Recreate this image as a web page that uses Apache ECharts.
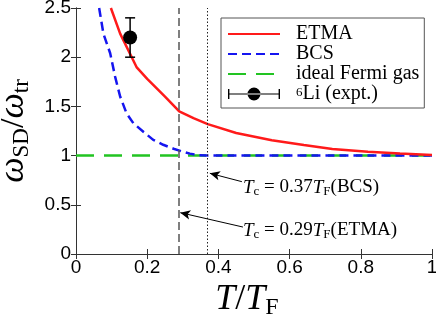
<!DOCTYPE html>
<html><head><meta charset="utf-8">
<script src="https://cdn.jsdelivr.net/npm/echarts@6/dist/echarts.min.js"></script>
<style>html,body{margin:0;padding:0;background:#fff}#c{width:436px;height:314px}</style>
</head><body><div id="c"></div>
<script>
// ETMA curve
var etmaT = [0.098, 0.124, 0.17, 0.2, 0.25, 0.29, 0.33, 0.37, 0.45, 0.55, 0.64, 0.72, 0.82, 0.91, 1.0];
var etmaW = [2.5, 2.24, 1.9, 1.78, 1.6, 1.45, 1.38, 1.32, 1.23, 1.155, 1.108, 1.067, 1.04, 1.022, 1.005];
// BCS curve
var bcsT = [0.065, 0.077, 0.096, 0.11, 0.124, 0.142, 0.161, 0.19, 0.217, 0.245, 0.274, 0.3, 0.32, 0.345, 0.37, 0.5, 0.7, 1.0];
var bcsW = [2.5, 2.24, 2.04, 1.8, 1.6, 1.43, 1.33, 1.24, 1.16, 1.11, 1.07, 1.04, 1.02, 1.005, 1.0, 1.0, 1.0, 1.0];
// ideal Fermi gas
var idealT = [0, 1];
var idealW = [1, 1];
// experiment 6Li
var expT = [0.152];
var expW = [2.2];
var expLow = [2.0];
var expHigh = [2.4];
// critical temperatures
var tcETMA = 0.29;
var tcBCS = 0.37;
var xTicks = [0, 0.2, 0.4, 0.6, 0.8, 1];
var yTicks = [0, 0.5, 1, 1.5, 2, 2.5];

function zip(a, b) { return a.map(function (v, i) { return [v, b[i]]; }); }

var serif = 'Liberation Serif';
var sans = 'Liberation Sans';
var chart = echarts.init(document.getElementById('c'));

var axisCommon = {
  axisLine: { lineStyle: { color: '#333', width: 1 } },
  axisTick: { inside: true, length: 5, lineStyle: { color: '#333' } },
  splitLine: { show: false }
};

chart.setOption({
  animation: false,
  grid: { left: 76, right: 4, top: 8, bottom: 60, containLabel: false, outerBoundsMode: 'none' },
  xAxis: [
    Object.assign({
      type: 'value', min: 0, max: 1, interval: 0.2, position: 'bottom',
      axisLabel: { fontFamily: sans, fontSize: 19, color: '#000', margin: 4 },
      name: '{i|T}{n|/}{i|T}{s|F}', nameLocation: 'middle', nameGap: 18,
      nameTextStyle: { padding: [0, 14, 0, 0], rich: {
        i: { fontFamily: serif, fontStyle: 'italic', fontSize: 36, lineHeight: 40, color: '#000' },
        n: { fontFamily: serif, fontSize: 36, lineHeight: 40, color: '#000' },
        s: { fontFamily: serif, fontSize: 24, lineHeight: 24, verticalAlign: 'bottom', color: '#000' }
      } }
    }, axisCommon),
    Object.assign({
      type: 'value', min: 0, max: 1, interval: 0.2, position: 'top',
      axisLabel: { show: false }
    }, axisCommon)
  ],
  yAxis: [
    Object.assign({
      type: 'value', min: 0, max: 2.5, interval: 0.5, position: 'left',
      axisLabel: { fontFamily: sans, fontSize: 19, color: '#000', margin: 5 },
      name: '{i|ω}{s|SD}{n|/}{i|ω}{s|tr}', nameLocation: 'middle', nameGap: 38, nameRotate: 90,
      nameTextStyle: { rich: {
        i: { fontFamily: serif, fontStyle: 'italic', fontSize: 36, lineHeight: 40, color: '#000' },
        n: { fontFamily: serif, fontSize: 34, lineHeight: 40, color: '#000' },
        s: { fontFamily: serif, fontSize: 23, lineHeight: 24, verticalAlign: 'bottom', color: '#000' }
      } }
    }, axisCommon),
    Object.assign({
      type: 'value', min: 0, max: 2.5, interval: 0.5, position: 'right',
      axisLabel: { show: false }
    }, axisCommon)
  ],
  legend: {
    left: 221, top: 18, orient: 'vertical',
    padding: [6, 5, 4, 6],
    borderColor: '#555', borderWidth: 1, backgroundColor: '#fff',
    itemWidth: 52, itemHeight: 14, itemGap: 0,
    itemStyle: { opacity: 0 },
    textStyle: { fontFamily: serif, fontSize: 20, color: '#000', lineHeight: 16, padding: [0, 0, 0, 11],
      rich: { sup: { fontFamily: serif, fontSize: 13, verticalAlign: 'top', lineHeight: 16, color: '#000' },
              t: { fontFamily: serif, fontSize: 20, lineHeight: 16, color: '#000' } } },
    formatter: function (n) { return n === '6Li (expt.)' ? '{sup|6}{t|Li (expt.)}' : n; },
    data: [
      { name: 'ETMA' },
      { name: 'BCS' },
      { name: 'ideal Fermi gas' },
      { name: '6Li (expt.)', itemStyle: { opacity: 1, color: '#000' },
        icon: 'path://M0,2h1.4v10h-1.4z M0,6.4h52v1.2h-52z M50.6,2h1.4v10h-1.4z M26,0.5a6.5,6.5 0 1,0 0.01,0z' }
    ]
  },
  series: [
    {
      name: 'ideal Fermi gas', type: 'line', data: zip(idealT, idealW), symbol: 'none',
      lineStyle: { color: '#22c422', width: 2.5, type: [18, 10] }, z: 2,
      markLine: {
        silent: true, symbol: 'none', label: { show: false },
        data: [
          { xAxis: tcETMA, lineStyle: { color: '#555', width: 1.5, type: [8, 4] } },
          { xAxis: tcBCS, lineStyle: { color: '#222', width: 1, type: [1.5, 2] } }
        ]
      }
    },
    {
      name: 'BCS', type: 'line', data: zip(bcsT, bcsW), symbol: 'none',
      lineStyle: { color: '#1515f0', width: 2.5, type: [9, 5] }, z: 3,
      markLine: {
        silent: true, symbol: ['none', 'arrow'], symbolSize: [7, 10], label: { show: false },
        lineStyle: { color: '#000', width: 1, type: 'solid' },
        data: [
          [{ coord: [0.466, 0.735] }, { coord: [0.376, 0.82] }],
          [{ coord: [0.469, 0.274] }, { coord: [0.293, 0.42] }]
        ]
      }
    },
    {
      name: 'ETMA', type: 'line', data: zip(etmaT, etmaW), symbol: 'none',
      lineStyle: { color: '#ff1a1a', width: 2.5 }, z: 4
    },
    {
      name: '6Li (expt.)', type: 'scatter', data: zip(expT, expW), symbol: 'circle', symbolSize: 14,
      itemStyle: { color: '#000', opacity: 1 }, z: 6
    },
    {
      name: 'err', type: 'custom', z: 5, silent: true,
      data: expT.map(function (t, i) { return [t, expLow[i], expHigh[i]]; }),
      renderItem: function (params, api) {
        var lo = api.coord([api.value(0), api.value(1)]);
        var hi = api.coord([api.value(0), api.value(2)]);
        var hw = 5;
        var st = { stroke: '#000', lineWidth: 1.5 };
        return { type: 'group', children: [
          { type: 'line', shape: { x1: lo[0], y1: lo[1], x2: hi[0], y2: hi[1] }, style: st },
          { type: 'line', shape: { x1: lo[0] - hw, y1: lo[1], x2: lo[0] + hw, y2: lo[1] }, style: st },
          { type: 'line', shape: { x1: hi[0] - hw, y1: hi[1], x2: hi[0] + hw, y2: hi[1] }, style: st }
        ] };
      }
    }
  ],
  graphic: [
    { type: 'text', left: 243, top: 178, style: {
      text: '{i|T}{s|c}{n| = 0.37}{i|T}{s|F}{n|(BCS)}',
      rich: {
        i: { fontFamily: serif, fontStyle: 'italic', fontSize: 19, lineHeight: 22, fill: '#000' },
        n: { fontFamily: serif, fontSize: 19, lineHeight: 22, fill: '#000' },
        s: { fontFamily: serif, fontSize: 13, lineHeight: 13, verticalAlign: 'bottom', fill: '#000' }
      } } },
    { type: 'text', left: 243, top: 221, style: {
      text: '{i|T}{s|c}{n| = 0.29}{i|T}{s|F}{n|(ETMA)}',
      rich: {
        i: { fontFamily: serif, fontStyle: 'italic', fontSize: 19, lineHeight: 22, fill: '#000' },
        n: { fontFamily: serif, fontSize: 19, lineHeight: 22, fill: '#000' },
        s: { fontFamily: serif, fontSize: 13, lineHeight: 13, verticalAlign: 'bottom', fill: '#000' }
      } } }
  ]
});
</script></body></html>
